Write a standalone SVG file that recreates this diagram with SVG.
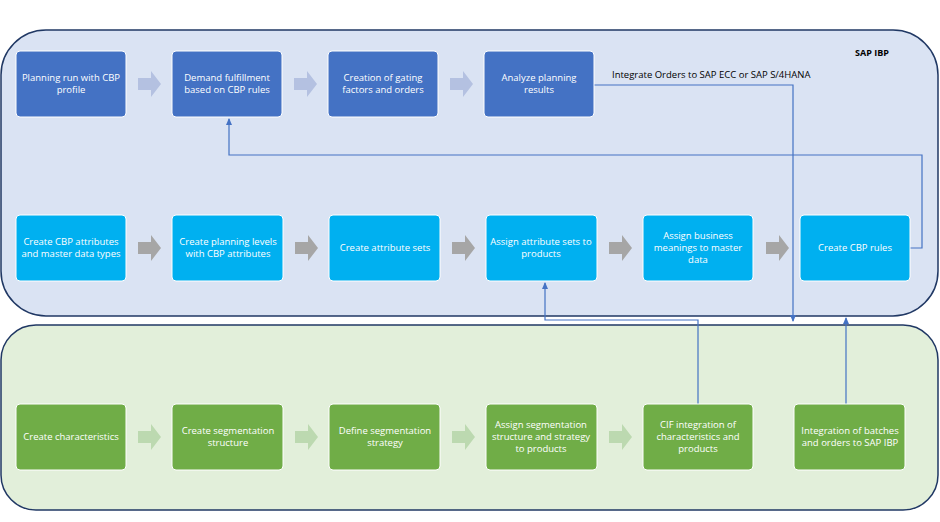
<svg xmlns="http://www.w3.org/2000/svg" width="940" height="522" viewBox="0 0 940 522">
<style>
text{font-family:"Open Sans","Liberation Sans",sans-serif;font-size:9.5px;fill:#fff;text-anchor:middle}
.d{fill:#4472c4;stroke:#fff;stroke-width:1}
.l{fill:#00b0f0;stroke:#fff;stroke-width:1}
.g{fill:#70ad47;stroke:#fff;stroke-width:1}
.c{fill:none;stroke:#4472c4;stroke-width:1.2}
.ba{fill:#b4c1e1}.bg{fill:#a6a6a6}.bl{fill:#bcd9b0}
</style>
<defs><marker id="ah" markerWidth="8" markerHeight="8" refX="6" refY="4" orient="auto" markerUnits="userSpaceOnUse"><path d="M0,1L7,4L0,7z" fill="#4472c4"/></marker>
<path id="blk" d="M0,-6H13V-13L23,0L13,13V6H0z"/></defs>
<g id="top-container"><rect x="1" y="30" width="937" height="286" rx="45" fill="#dae3f3" stroke="#203864" stroke-width="1.5"/>
<text x="872" y="56" style="fill:#000;font-weight:bold;font-size:9px">SAP IBP</text></g>
<g id="bottom-container"><rect x="1" y="325" width="937" height="185" rx="35" fill="#e2efda" stroke="#203864" stroke-width="1.5"/></g>
<g id="block-arrows">
<use href="#blk" x="138" y="84" class="ba"/><use href="#blk" x="294" y="84" class="ba"/><use href="#blk" x="450" y="84" class="ba"/>
<use href="#blk" x="138" y="248" class="bg"/><use href="#blk" x="295" y="248" class="bg"/><use href="#blk" x="452" y="248" class="bg"/><use href="#blk" x="609" y="248" class="bg"/><use href="#blk" x="766" y="248" class="bg"/>
<use href="#blk" x="138" y="437" class="bl"/><use href="#blk" x="295" y="437" class="bl"/><use href="#blk" x="452" y="437" class="bl"/><use href="#blk" x="609" y="437" class="bl"/>
</g>
<g id="connectors">
<path class="c" d="M594,85H793V321" marker-end="url(#ah)"/>
<path class="c" d="M910,248H922V155H229V119" marker-end="url(#ah)"/>
<path class="c" d="M698,404V320H545V283" marker-end="url(#ah)"/>
<path class="c" d="M846,404V318" marker-end="url(#ah)"/>
<text x="612" y="78" style="fill:#000;text-anchor:start;font-size:9.5px">Integrate Orders to SAP ECC or SAP S/4HANA</text>
</g>
<g id="n1"><rect class="d" x="16" y="51" width="110" height="66" rx="4"/><text x="71" y="81">Planning run with CBP</text><text x="71" y="93">profile</text></g>
<g id="n2"><rect class="d" x="172" y="51" width="110" height="66" rx="4"/><text x="227" y="81">Demand fulfillment</text><text x="227" y="93">based on CBP rules</text></g>
<g id="n3"><rect class="d" x="328" y="51" width="110" height="66" rx="4"/><text x="383" y="81">Creation of gating</text><text x="383" y="93">factors and orders</text></g>
<g id="n4"><rect class="d" x="484" y="51" width="110" height="66" rx="4"/><text x="539" y="81">Analyze planning</text><text x="539" y="93">results</text></g>
<g id="m1"><rect class="l" x="16" y="215" width="110" height="66" rx="4"/><text x="71" y="245">Create CBP attributes</text><text x="71" y="257">and master data types</text></g>
<g id="m2"><rect class="l" x="172" y="215" width="111" height="66" rx="4"/><text x="228" y="245">Create planning levels</text><text x="228" y="257">with CBP attributes</text></g>
<g id="m3"><rect class="l" x="329" y="215" width="111" height="66" rx="4"/><text x="385" y="251">Create attribute sets</text></g>
<g id="m4"><rect class="l" x="486" y="215" width="111" height="66" rx="4"/><text x="541" y="245">Assign attribute sets to</text><text x="541" y="257">products</text></g>
<g id="m5"><rect class="l" x="643" y="215" width="110" height="66" rx="4"/><text x="698" y="239">Assign business</text><text x="698" y="251">meanings to master</text><text x="698" y="263">data</text></g>
<g id="m6"><rect class="l" x="800" y="215" width="110" height="66" rx="4"/><text x="855" y="251">Create CBP rules</text></g>
<g id="b1"><rect class="g" x="16" y="404" width="110" height="66" rx="4"/><text x="71" y="440">Create characteristics</text></g>
<g id="b2"><rect class="g" x="172" y="404" width="111" height="66" rx="4"/><text x="228" y="434">Create segmentation</text><text x="228" y="446">structure</text></g>
<g id="b3"><rect class="g" x="329" y="404" width="111" height="66" rx="4"/><text x="385" y="434">Define segmentation</text><text x="385" y="446">strategy</text></g>
<g id="b4"><rect class="g" x="486" y="404" width="111" height="66" rx="4"/><text x="541" y="428">Assign segmentation</text><text x="541" y="440">structure and strategy</text><text x="541" y="452">to products</text></g>
<g id="b5"><rect class="g" x="643" y="404" width="110" height="66" rx="4"/><text x="698" y="428">CIF integration of</text><text x="698" y="440">characteristics and</text><text x="698" y="452">products</text></g>
<g id="b6"><rect class="g" x="794" y="404" width="111" height="66" rx="4"/><text x="850" y="434">Integration of batches</text><text x="850" y="446">and orders to SAP IBP</text></g>
</svg>
